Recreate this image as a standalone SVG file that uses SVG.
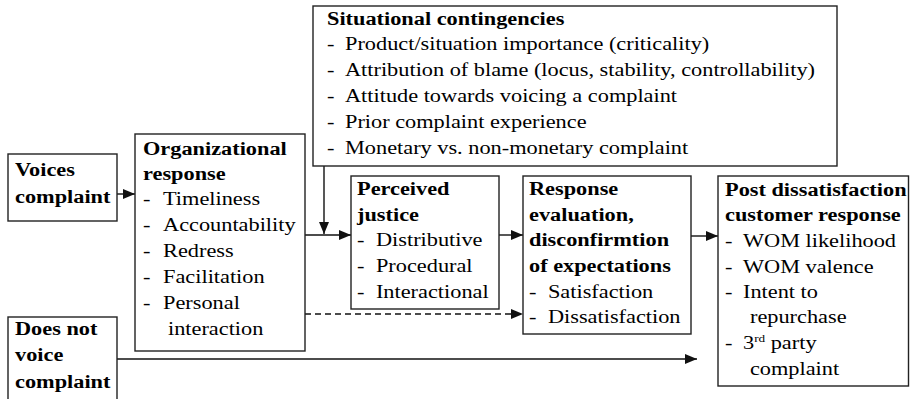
<svg xmlns="http://www.w3.org/2000/svg" width="910" height="399" viewBox="0 0 910 399">
  <style>
    .box { fill: #ffffff; stroke: #222222; stroke-width: 1.4; }
    .txt { font-family: "Liberation Serif", "Times New Roman", serif; font-size: 18.6px; fill: #000000; }
    .b { font-weight: bold; }
    .sup { font-size: 11px; }
    .conn { fill: none; stroke: #111111; stroke-width: 1.4; }
    .dash { stroke-dasharray: 6 4; }
  </style>
  <defs>
    <marker id="arrow" markerUnits="userSpaceOnUse" markerWidth="12" markerHeight="10" refX="12" refY="5" orient="auto">
      <path d="M0,0 L12,5 L0,10 z" fill="#111111"/>
    </marker>
  </defs>

  <rect width="910" height="399" fill="#ffffff"/>

  <!-- connectors -->
  <g id="connectors">
    <path class="conn" d="M117,194 H135" marker-end="url(#arrow)"/>
    <path class="conn" d="M305,235 H351" marker-end="url(#arrow)"/>
    <path class="conn" d="M324,166 V234" marker-end="url(#arrow)"/>
    <path class="conn" d="M499,235 H523" marker-end="url(#arrow)"/>
    <path class="conn" d="M691,236 H718" marker-end="url(#arrow)"/>
    <path class="conn dash" d="M305,314 H523" marker-end="url(#arrow)"/>
    <path class="conn" d="M117,359 H697" marker-end="url(#arrow)"/>
  </g>

  <!-- text is drawn 1.2x wider than tall: translate to the left margin, then scale x -->
  <g id="voices">
    <rect class="box" x="8" y="154" width="109" height="67"/>
    <text class="txt b" transform="translate(15 0) scale(1.2 1)">
      <tspan x="0" y="176">Voices</tspan>
      <tspan x="0" y="203">complaint</tspan>
    </text>
  </g>

  <g id="not-voice">
    <rect class="box" x="8" y="317" width="109" height="90"/>
    <text class="txt b" transform="translate(15 0) scale(1.2 1)">
      <tspan x="0" y="335">Does not</tspan>
      <tspan x="0" y="361">voice</tspan>
      <tspan x="0" y="388">complaint</tspan>
    </text>
  </g>

  <g id="organizational">
    <rect class="box" x="135" y="134" width="170" height="217"/>
    <text class="txt" transform="translate(143 0) scale(1.2 1)">
      <tspan class="b" x="0" y="155">Organizational</tspan>
      <tspan class="b" x="0" y="180">response</tspan>
      <tspan x="0" y="205">-</tspan><tspan x="16.7" y="205">Timeliness</tspan>
      <tspan x="0" y="231">-</tspan><tspan x="16.7" y="231">Accountability</tspan>
      <tspan x="0" y="257">-</tspan><tspan x="16.7" y="257">Redress</tspan>
      <tspan x="0" y="283">-</tspan><tspan x="16.7" y="283">Facilitation</tspan>
      <tspan x="0" y="309">-</tspan><tspan x="16.7" y="309">Personal</tspan>
      <tspan x="20.8" y="335">interaction</tspan>
    </text>
  </g>

  <g id="situational">
    <rect class="box" x="313" y="6" width="524" height="160"/>
    <text class="txt" transform="translate(327 0) scale(1.2 1)">
      <tspan class="b" x="0" y="25">Situational contingencies</tspan>
      <tspan x="0" y="50">-</tspan><tspan x="15" y="50">Product/situation importance (criticality)</tspan>
      <tspan x="0" y="76">-</tspan><tspan x="15" y="76">Attribution of blame (locus, stability, controllability)</tspan>
      <tspan x="0" y="102">-</tspan><tspan x="15" y="102">Attitude towards voicing a complaint</tspan>
      <tspan x="0" y="128">-</tspan><tspan x="15" y="128">Prior complaint experience</tspan>
      <tspan x="0" y="154">-</tspan><tspan x="15" y="154">Monetary vs. non-monetary complaint</tspan>
    </text>
  </g>

  <g id="justice">
    <rect class="box" x="351" y="176" width="148" height="133"/>
    <text class="txt" transform="translate(357 0) scale(1.2 1)">
      <tspan class="b" x="0" y="195">Perceived</tspan>
      <tspan class="b" x="0" y="221">justice</tspan>
      <tspan x="0" y="246">-</tspan><tspan x="15.8" y="246">Distributive</tspan>
      <tspan x="0" y="272">-</tspan><tspan x="15.8" y="272">Procedural</tspan>
      <tspan x="0" y="298">-</tspan><tspan x="15.8" y="298">Interactional</tspan>
    </text>
  </g>

  <g id="evaluation">
    <rect class="box" x="523" y="176" width="168" height="158"/>
    <text class="txt" transform="translate(529 0) scale(1.2 1)">
      <tspan class="b" x="0" y="195">Response</tspan>
      <tspan class="b" x="0" y="221">evaluation,</tspan>
      <tspan class="b" x="0" y="246">disconfirmtion</tspan>
      <tspan class="b" x="0" y="272">of expectations</tspan>
      <tspan x="0" y="298">-</tspan><tspan x="15.8" y="298">Satisfaction</tspan>
      <tspan x="0" y="323">-</tspan><tspan x="15.8" y="323">Dissatisfaction</tspan>
    </text>
  </g>

  <g id="post-response">
    <rect class="box" x="718" y="176" width="190.5" height="210"/>
    <text class="txt" transform="translate(725 0) scale(1.2 1)">
      <tspan class="b" x="0" y="196">Post dissatisfaction</tspan>
      <tspan class="b" x="0" y="221">customer response</tspan>
      <tspan x="0" y="247">-</tspan><tspan x="15" y="247">WOM likelihood</tspan>
      <tspan x="0" y="273">-</tspan><tspan x="15" y="273">WOM valence</tspan>
      <tspan x="0" y="298">-</tspan><tspan x="15" y="298">Intent to</tspan>
      <tspan x="20.8" y="323">repurchase</tspan>
      <tspan x="0" y="349">-</tspan><tspan x="15" y="349">3</tspan><tspan class="sup" dy="-7">rd</tspan><tspan dy="7"> party</tspan>
      <tspan x="20.8" y="375">complaint</tspan>
    </text>
  </g>
</svg>
